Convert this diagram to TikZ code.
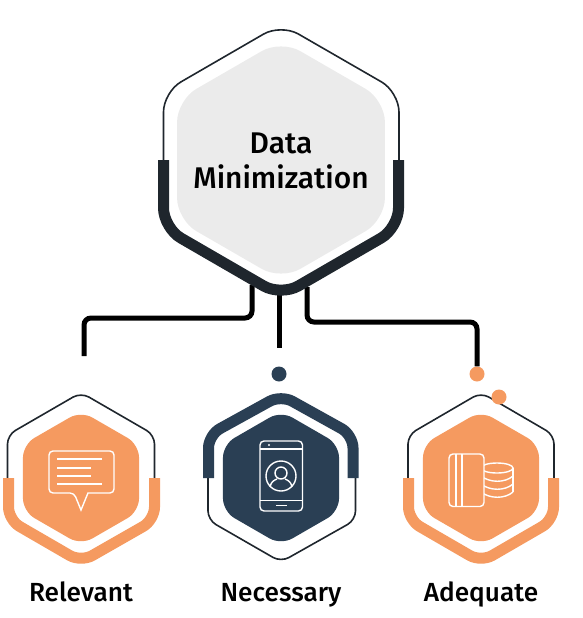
\documentclass[tikz,border=0pt]{standalone}
\usepackage{fontspec}
\setmainfont{Fira Sans Medium}
\usetikzlibrary{shapes.geometric}

\definecolor{coregray}{HTML}{EBEBEB}
\definecolor{darkband}{HTML}{1F262D}
\definecolor{navy}{HTML}{2A3F54}
\definecolor{peach}{HTML}{F59A60}

\tikzstyle{hexfill}=[regular polygon,regular polygon sides=6,shape border rotate=30,inner sep=0pt,outer sep=0pt]
\tikzstyle{core}=[hexfill,fill=coregray,rounded corners=22pt,minimum size=240pt]
\tikzstyle{small}=[hexfill,rounded corners=13pt,minimum size=134pt]
\tikzstyle{wire}=[line width=5pt,black,rounded corners=7pt]
\tikzstyle{thin}=[line width=1.6pt,darkband,rounded corners=9pt]
\tikzstyle{band}=[line width=11pt,rounded corners=13pt]
\tikzstyle{icon}=[line width=1.4pt,white,rounded corners=4pt]
\tikzstyle{iconline}=[line width=1.4pt,white]
\tikzstyle{dot}=[circle,inner sep=0pt,minimum size=15pt]
\tikzstyle{caption}=[anchor=base,font=\fontsize{26.2}{30}\selectfont,text=black]

\begin{document}
\begin{tikzpicture}[x=1pt,y=-1pt]
\useasboundingbox (0,0) rectangle (582,618);
% connectors
\coordinate(leftstart) at (252,285);
\coordinate(leftend) at (84,356);
\coordinate(midstart) at (279,295);
\coordinate(midend) at (279,348);
\coordinate(rightstart) at (307,287);
\node(dotmid)[dot,fill=navy] at (279,374){};
\node(dotright)[dot,fill=peach] at (477,374){};
\draw[wire](leftstart)|-(leftend|-0,318)--(leftend);
\draw[wire,rounded corners=0pt](midstart)--(midend);
\draw[wire](rightstart)|-(dotright|-0,322)--(dotright);
% big hexagon
\node(data)[core] at (281,160){};
\node(datalabel)[align=center,font=\fontsize{29.9}{35.5}\selectfont] at (281,161){Data\\Minimization};
\draw[line width=1.6pt,darkband,rounded corners=20pt](163.5,165)--(163.5,92)--(281,24)--(399,92)--(399,165);
\draw[band,darkband,rounded corners=20pt](163.5,160)--(163.5,228)--(281,296)--(398.5,228)--(398.5,160);
% left hexagon
\node(relevant)[small,fill=peach] at (81,478){};
\draw[thin](7.5,482)--(7.5,435)--(81,392.5)--(154.5,435)--(154.5,482);
\draw[band,peach](8.5,478)--(8.5,520)--(81,562)--(154.5,520)--(154.5,478);
\draw[icon](74,493)[sharp corners]--(81,510)--(88,493)[rounded corners=4pt]--(114,493)--(114,451)--(49,451)--(49,493)--cycle;
\foreach \yy/\xx in {459/102,468/91,476/91,484/102}
  \draw[iconline](57,\yy)--(\xx,\yy);
% middle hexagon
\node(necessary)[small,fill=navy] at (281,478){};
\draw[thin](208,474)--(208,520)--(281,562)--(355.5,520)--(355.5,474);
\draw[band,navy](208.5,478)--(208.5,435)--(281,395)--(353,435)--(353,478);
\draw[icon](260,441) rectangle (302.5,511);
\draw[iconline](260,449)--(302.5,449);
\draw[iconline](260,500.5)--(302.5,500.5);
\draw[iconline](276,505.5)--(287,505.5);
\fill[white](269,445) circle (1.2pt);
\draw[iconline](281,476) circle (15pt);
\draw[iconline](281,473) circle (6pt);
\draw[iconline](270,487) .. controls (271,481) and (275,480) .. (277,479);
\draw[iconline](285,479) .. controls (287,480) and (291,481) .. (292,487);
% right hexagon
\node(adequate)[small,fill=peach] at (481,478){};
\draw[thin](408,482)--(408,435)--(481,392.5)--(554,435)--(554,482);
\draw[band,peach](408.5,478)--(408.5,520)--(481,562)--(553.5,520)--(553.5,478);
\node(dotextra)[dot,fill=peach] at (499,397){};
\draw[iconline](497,468) ellipse (16pt and 5pt);
\draw[iconline](513,468)--(513,492);
\foreach \yy in {476,484,492}
  \draw[iconline](481,\yy) .. controls (490,\yy+7) and (505,\yy+7) .. (513,\yy);
\draw[icon,fill=peach](449,454) rectangle (484,506.5);
\draw[iconline](456,454)--(456,506.5);
\draw[iconline](462,454)--(462,506.5);
% captions
\node(relevantlabel)[caption] at (81,601.7){Relevant};
\node(necessarylabel)[caption] at (281,601.7){Necessary};
\node(adequatelabel)[caption] at (481,601.7){Adequate};
\end{tikzpicture}
\end{document}
